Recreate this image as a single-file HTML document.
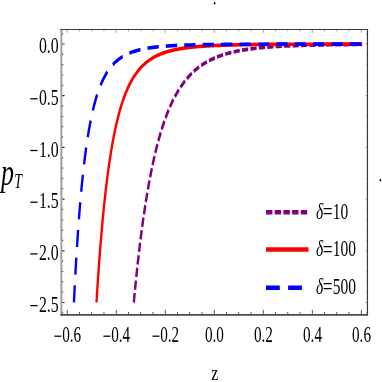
<!DOCTYPE html>
<html><head><meta charset="utf-8"><title>plot</title>
<style>
html,body{margin:0;padding:0;background:#fff;}
body{width:382px;height:382px;overflow:hidden;}
svg{display:block;filter:blur(0.4px);}
text{font-family:"Liberation Serif",serif;fill:#000;}
</style></head><body>
<svg width="382" height="382" viewBox="0 0 382 382">
<rect width="382" height="382" fill="#fff"/>
<g transform="scale(1,1.51)">
<path d="M67.19,208.48v-3.30 M79.44,208.48v-1.90 M91.70,208.48v-1.90 M103.95,208.48v-1.90 M116.21,208.48v-3.30 M128.46,208.48v-1.90 M140.72,208.48v-1.90 M152.97,208.48v-1.90 M165.23,208.48v-3.30 M177.48,208.48v-1.90 M189.74,208.48v-1.90 M202.00,208.48v-1.90 M214.25,208.48v-3.30 M226.50,208.48v-1.90 M238.76,208.48v-1.90 M251.02,208.48v-1.90 M263.27,208.48v-3.30 M275.52,208.48v-1.90 M287.78,208.48v-1.90 M300.04,208.48v-1.90 M312.29,208.48v-3.30 M324.55,208.48v-1.90 M336.80,208.48v-1.90 M349.06,208.48v-1.90 M361.31,208.48v-3.30 M61.30,207.18h1.90 M61.30,200.33h3.30 M61.30,193.48h1.90 M61.30,186.64h1.90 M61.30,179.79h1.90 M61.30,172.94h1.90 M61.30,166.09h3.30 M61.30,159.25h1.90 M61.30,152.40h1.90 M61.30,145.55h1.90 M61.30,138.70h1.90 M61.30,131.85h3.30 M61.30,125.01h1.90 M61.30,118.16h1.90 M61.30,111.31h1.90 M61.30,104.46h1.90 M61.30,97.62h3.30 M61.30,90.77h1.90 M61.30,83.92h1.90 M61.30,77.07h1.90 M61.30,70.23h1.90 M61.30,63.38h3.30 M61.30,56.53h1.90 M61.30,49.68h1.90 M61.30,42.83h1.90 M61.30,35.99h1.90 M61.30,29.14h3.30 M61.30,22.29h1.90"  stroke="#333" stroke-width="0.8" fill="none"/>
<path d="M67.19,19.54v2.15 M79.44,19.54v1.23 M91.70,19.54v1.23 M103.95,19.54v1.23 M116.21,19.54v2.15 M128.46,19.54v1.23 M140.72,19.54v1.23 M152.97,19.54v1.23 M165.23,19.54v2.15 M177.48,19.54v1.23 M189.74,19.54v1.23 M202.00,19.54v1.23 M214.25,19.54v2.15 M226.50,19.54v1.23 M238.76,19.54v1.23 M251.02,19.54v1.23 M263.27,19.54v2.15 M275.52,19.54v1.23 M287.78,19.54v1.23 M300.04,19.54v1.23 M312.29,19.54v2.15 M324.55,19.54v1.23 M336.80,19.54v1.23 M349.06,19.54v1.23 M361.31,19.54v2.15 M367.45,207.18h-1.14 M367.45,200.33h-1.98 M367.45,193.48h-1.14 M367.45,186.64h-1.14 M367.45,179.79h-1.14 M367.45,172.94h-1.14 M367.45,166.09h-1.98 M367.45,159.25h-1.14 M367.45,152.40h-1.14 M367.45,145.55h-1.14 M367.45,138.70h-1.14 M367.45,131.85h-1.98 M367.45,125.01h-1.14 M367.45,118.16h-1.14 M367.45,111.31h-1.14 M367.45,104.46h-1.14 M367.45,97.62h-1.98 M367.45,90.77h-1.14 M367.45,83.92h-1.14 M367.45,77.07h-1.14 M367.45,70.23h-1.14 M367.45,63.38h-1.98 M367.45,56.53h-1.14 M367.45,49.68h-1.14 M367.45,42.83h-1.14 M367.45,35.99h-1.14 M367.45,29.14h-1.98 M367.45,22.29h-1.14" stroke="#777" stroke-width="0.55" fill="none"/>
<path d="M133.81,200.23 L133.81,200.23 L133.81,200.22 L133.82,200.20 L133.82,200.17 L133.83,200.12 L133.83,200.07 L133.84,200.01 L133.85,199.93 L133.87,199.84 L133.88,199.74 L133.90,199.62 L133.91,199.50 L133.93,199.36 L133.96,199.20 L133.98,199.03 L134.00,198.85 L134.03,198.65 L134.06,198.44 L134.09,198.22 L134.13,197.98 L134.16,197.73 L134.20,197.46 L134.24,197.18 L134.28,196.88 L134.33,196.57 L134.37,196.25 L134.42,195.91 L134.47,195.55 L134.53,195.18 L134.58,194.80 L134.64,194.40 L134.70,193.98 L134.76,193.56 L134.82,193.11 L134.89,192.66 L134.96,192.19 L135.03,191.70 L135.11,191.20 L135.18,190.68 L135.26,190.16 L135.34,189.61 L135.42,189.06 L135.51,188.48 L135.60,187.90 L135.69,187.30 L135.78,186.69 L135.88,186.06 L135.97,185.43 L136.08,184.77 L136.18,184.11 L136.28,183.43 L136.39,182.74 L136.50,182.04 L136.61,181.32 L136.73,180.59 L136.85,179.85 L136.97,179.10 L137.09,178.34 L137.22,177.56 L137.35,176.78 L137.48,175.98 L137.61,175.17 L137.75,174.35 L137.89,173.52 L138.03,172.68 L138.17,171.83 L138.32,170.97 L138.47,170.10 L138.62,169.22 L138.77,168.33 L138.93,167.43 L139.09,166.53 L139.25,165.61 L139.42,164.69 L139.59,163.76 L139.76,162.82 L139.93,161.87 L140.11,160.92 L140.29,159.95 L140.47,158.99 L140.65,158.01 L140.84,157.03 L141.03,156.04 L141.22,155.05 L141.42,154.05 L141.61,153.05 L141.82,152.04 L142.02,151.03 L142.23,150.01 L142.44,148.99 L142.65,147.96 L142.86,146.93 L143.08,145.90 L143.30,144.86 L143.52,143.82 L143.75,142.78 L143.98,141.73 L144.21,140.69 L144.45,139.64 L144.68,138.59 L144.93,137.54 L145.17,136.48 L145.42,135.43 L145.66,134.37 L145.92,133.32 L146.17,132.26 L146.43,131.20 L146.69,130.15 L146.95,129.09 L147.22,128.04 L147.49,126.98 L147.76,125.93 L148.04,124.88 L148.32,123.83 L148.60,122.78 L148.88,121.74 L149.17,120.69 L149.46,119.65 L149.75,118.61 L150.05,117.58 L150.35,116.54 L150.65,115.51 L150.96,114.49 L151.26,113.46 L151.58,112.44 L151.89,111.43 L152.21,110.42 L152.53,109.41 L152.85,108.41 L153.18,107.41 L153.51,106.42 L153.84,105.43 L154.17,104.45 L154.51,103.47 L154.85,102.50 L155.20,101.53 L155.55,100.57 L155.90,99.61 L156.25,98.66 L156.61,97.72 L156.97,96.78 L157.33,95.85 L157.69,94.92 L158.06,94.01 L158.44,93.09 L158.81,92.19 L159.19,91.29 L159.57,90.40 L159.95,89.52 L160.34,88.64 L160.73,87.77 L161.13,86.91 L161.52,86.05 L161.92,85.20 L162.33,84.36 L162.73,83.53 L163.14,82.70 L163.56,81.88 L163.97,81.07 L164.39,80.27 L164.81,79.48 L165.24,78.69 L165.67,77.91 L166.10,77.14 L166.53,76.38 L166.97,75.62 L167.41,74.87 L167.85,74.13 L168.30,73.40 L168.75,72.68 L169.21,71.96 L169.66,71.26 L170.12,70.56 L170.59,69.87 L171.05,69.18 L171.52,68.51 L172.00,67.84 L172.47,67.18 L172.95,66.53 L173.43,65.89 L173.92,65.25 L174.41,64.62 L174.90,64.01 L175.40,63.39 L175.90,62.79 L176.40,62.20 L176.90,61.61 L177.41,61.03 L177.92,60.46 L178.44,59.89 L178.96,59.34 L179.48,58.79 L180.00,58.25 L180.53,57.71 L181.06,57.19 L181.60,56.67 L182.14,56.16 L182.68,55.66 L183.22,55.16 L183.77,54.67 L184.32,54.19 L184.88,53.71 L185.43,53.25 L185.99,52.79 L186.56,52.33 L187.13,51.89 L187.70,51.45 L188.27,51.02 L188.85,50.59 L189.43,50.17 L190.02,49.76 L190.60,49.36 L191.19,48.96 L191.79,48.57 L192.39,48.18 L192.99,47.80 L193.59,47.43 L194.20,47.06 L194.81,46.70 L195.42,46.34 L196.04,46.00 L196.66,45.65 L197.29,45.32 L197.92,44.99 L198.55,44.66 L199.18,44.34 L199.82,44.03 L200.46,43.72 L201.11,43.42 L201.75,43.12 L202.41,42.83 L203.06,42.54 L203.72,42.26 L204.38,41.98 L205.05,41.71 L205.72,41.44 L206.39,41.18 L207.06,40.93 L207.74,40.67 L208.42,40.43 L209.11,40.18 L209.80,39.95 L210.49,39.71 L211.19,39.48 L211.89,39.26 L212.59,39.04 L213.30,38.82 L214.00,38.61 L214.72,38.40 L215.43,38.20 L216.15,38.00 L216.88,37.81 L217.60,37.61 L218.34,37.43 L219.07,37.24 L219.81,37.06 L220.55,36.88 L221.29,36.71 L222.04,36.54 L222.79,36.37 L223.54,36.21 L224.30,36.05 L225.06,35.90 L225.83,35.74 L226.60,35.59 L227.37,35.45 L228.15,35.30 L228.92,35.16 L229.71,35.03 L230.49,34.89 L231.28,34.76 L232.08,34.63 L232.87,34.50 L233.67,34.38 L234.48,34.26 L235.28,34.14 L236.09,34.02 L236.91,33.91 L237.73,33.80 L238.55,33.69 L239.37,33.59 L240.20,33.48 L241.03,33.38 L241.87,33.28 L242.71,33.18 L243.55,33.09 L244.39,33.00 L245.24,32.90 L246.10,32.82 L246.95,32.73 L247.81,32.64 L248.68,32.56 L249.54,32.48 L250.41,32.40 L251.29,32.32 L252.17,32.25 L253.05,32.17 L253.93,32.10 L254.82,32.03 L255.71,31.96 L256.61,31.90 L257.51,31.83 L258.41,31.76 L259.32,31.70 L260.23,31.64 L261.14,31.58 L262.06,31.52 L262.98,31.47 L263.90,31.41 L264.83,31.35 L265.76,31.30 L266.70,31.25 L267.64,31.20 L268.58,31.15 L269.53,31.10 L270.48,31.05 L271.43,31.01 L272.39,30.96 L273.35,30.92 L274.31,30.88 L275.28,30.83 L276.25,30.79 L277.22,30.75 L278.20,30.71 L279.19,30.68 L280.17,30.64 L281.16,30.60 L282.15,30.57 L283.15,30.53 L284.15,30.50 L285.16,30.47 L286.16,30.43 L287.17,30.40 L288.19,30.37 L289.21,30.34 L290.23,30.31 L291.26,30.29 L292.29,30.26 L293.32,30.23 L294.36,30.20 L295.40,30.18 L296.44,30.15 L297.49,30.13 L298.54,30.11 L299.60,30.08 L300.66,30.06 L301.72,30.04 L302.78,30.02 L303.85,30.00 L304.93,29.98 L306.01,29.96 L307.09,29.94 L308.17,29.92 L309.26,29.90 L310.35,29.88 L311.45,29.86 L312.55,29.85 L313.65,29.83 L314.76,29.81 L315.87,29.80 L316.98,29.78 L318.10,29.77 L319.22,29.75 L320.35,29.74 L321.48,29.72 L322.61,29.71 L323.75,29.70 L324.89,29.69 L326.03,29.67 L327.18,29.66 L328.33,29.65 L329.49,29.64 L330.65,29.63 L331.81,29.61 L332.98,29.60 L334.15,29.59 L335.32,29.58 L336.50,29.57 L337.68,29.56 L338.87,29.55 L340.05,29.54 L341.25,29.54 L342.44,29.53 L343.64,29.52 L344.85,29.51 L346.06,29.50 L347.27,29.49 L348.48,29.49 L349.70,29.48 L350.92,29.47 L352.15,29.47 L353.38,29.46 L354.62,29.45 L355.85,29.45 L357.10,29.44 L358.34,29.43 L359.59,29.43 L360.84,29.42 L362.10,29.42" fill="none" stroke="#800080" stroke-width="2.45" stroke-dasharray="6.2 2.25"/>
<path d="M96.50,200.23 L96.50,200.23 L96.50,200.21 L96.50,200.17 L96.51,200.12 L96.52,200.04 L96.53,199.95 L96.54,199.83 L96.55,199.70 L96.56,199.54 L96.58,199.36 L96.60,199.16 L96.62,198.93 L96.64,198.69 L96.67,198.41 L96.69,198.12 L96.72,197.80 L96.76,197.45 L96.79,197.09 L96.83,196.69 L96.87,196.28 L96.91,195.83 L96.95,195.37 L97.00,194.88 L97.05,194.36 L97.10,193.82 L97.15,193.26 L97.21,192.67 L97.27,192.06 L97.33,191.42 L97.39,190.76 L97.46,190.07 L97.53,189.37 L97.60,188.64 L97.68,187.88 L97.76,187.10 L97.84,186.30 L97.92,185.48 L98.00,184.64 L98.09,183.77 L98.18,182.89 L98.28,181.98 L98.38,181.05 L98.47,180.10 L98.58,179.13 L98.68,178.15 L98.79,177.14 L98.90,176.11 L99.02,175.07 L99.13,174.01 L99.25,172.93 L99.37,171.83 L99.50,170.72 L99.63,169.60 L99.76,168.45 L99.89,167.30 L100.03,166.13 L100.17,164.94 L100.32,163.74 L100.46,162.53 L100.61,161.31 L100.76,160.07 L100.92,158.83 L101.08,157.57 L101.24,156.30 L101.40,155.03 L101.57,153.74 L101.74,152.45 L101.91,151.15 L102.09,149.84 L102.27,148.53 L102.45,147.21 L102.64,145.88 L102.83,144.55 L103.02,143.22 L103.22,141.88 L103.42,140.54 L103.62,139.19 L103.82,137.84 L104.03,136.49 L104.24,135.14 L104.46,133.79 L104.67,132.44 L104.90,131.09 L105.12,129.74 L105.35,128.39 L105.58,127.05 L105.81,125.70 L106.05,124.36 L106.29,123.02 L106.53,121.69 L106.78,120.35 L107.03,119.03 L107.28,117.71 L107.54,116.39 L107.80,115.08 L108.06,113.78 L108.33,112.48 L108.60,111.19 L108.87,109.90 L109.15,108.63 L109.43,107.36 L109.71,106.10 L110.00,104.85 L110.29,103.60 L110.58,102.37 L110.88,101.14 L111.18,99.93 L111.48,98.73 L111.79,97.53 L112.10,96.35 L112.41,95.17 L112.73,94.01 L113.05,92.86 L113.38,91.72 L113.70,90.59 L114.03,89.47 L114.37,88.37 L114.71,87.28 L115.05,86.19 L115.39,85.13 L115.74,84.07 L116.09,83.02 L116.45,81.99 L116.80,80.97 L117.17,79.97 L117.53,78.97 L117.90,77.99 L118.27,77.03 L118.65,76.07 L119.03,75.13 L119.41,74.20 L119.80,73.28 L120.19,72.38 L120.58,71.49 L120.98,70.62 L121.38,69.75 L121.78,68.90 L122.19,68.06 L122.60,67.24 L123.02,66.43 L123.44,65.63 L123.86,64.84 L124.29,64.07 L124.71,63.31 L125.15,62.56 L125.58,61.83 L126.02,61.10 L126.47,60.39 L126.92,59.70 L127.37,59.01 L127.82,58.34 L128.28,57.68 L128.74,57.03 L129.21,56.39 L129.67,55.76 L130.15,55.15 L130.62,54.55 L131.10,53.96 L131.59,53.38 L132.07,52.81 L132.57,52.25 L133.06,51.70 L133.56,51.17 L134.06,50.64 L134.57,50.13 L135.08,49.62 L135.59,49.13 L136.11,48.64 L136.63,48.17 L137.15,47.71 L137.68,47.25 L138.21,46.81 L138.75,46.37 L139.28,45.95 L139.83,45.53 L140.37,45.12 L140.92,44.72 L141.48,44.33 L142.04,43.95 L142.60,43.58 L143.16,43.21 L143.73,42.85 L144.31,42.51 L144.88,42.17 L145.46,41.83 L146.05,41.51 L146.63,41.19 L147.23,40.88 L147.82,40.57 L148.42,40.28 L149.02,39.99 L149.63,39.71 L150.24,39.43 L150.86,39.16 L151.47,38.90 L152.10,38.64 L152.72,38.39 L153.35,38.15 L153.99,37.91 L154.62,37.68 L155.26,37.45 L155.91,37.23 L156.56,37.01 L157.21,36.80 L157.87,36.60 L158.53,36.40 L159.19,36.20 L159.86,36.01 L160.53,35.83 L161.21,35.65 L161.89,35.47 L162.57,35.30 L163.26,35.13 L163.95,34.97 L164.65,34.81 L165.35,34.65 L166.05,34.50 L166.76,34.36 L167.47,34.21 L168.18,34.08 L168.90,33.94 L169.62,33.81 L170.35,33.68 L171.08,33.55 L171.82,33.43 L172.55,33.31 L173.30,33.20 L174.04,33.09 L174.79,32.98 L175.55,32.87 L176.31,32.77 L177.07,32.67 L177.83,32.57 L178.60,32.47 L179.38,32.38 L180.15,32.29 L180.94,32.20 L181.72,32.12 L182.51,32.04 L183.31,31.95 L184.10,31.88 L184.91,31.80 L185.71,31.73 L186.52,31.65 L187.33,31.58 L188.15,31.52 L188.97,31.45 L189.80,31.38 L190.63,31.32 L191.46,31.26 L192.30,31.20 L193.14,31.14 L193.99,31.09 L194.84,31.03 L195.69,30.98 L196.55,30.93 L197.41,30.88 L198.28,30.83 L199.15,30.78 L200.02,30.74 L200.90,30.69 L201.78,30.65 L202.67,30.61 L203.56,30.57 L204.45,30.53 L205.35,30.49 L206.25,30.45 L207.16,30.42 L208.07,30.38 L208.98,30.35 L209.90,30.31 L210.82,30.28 L211.75,30.25 L212.68,30.22 L213.62,30.19 L214.56,30.16 L215.50,30.13 L216.45,30.11 L217.40,30.08 L218.35,30.05 L219.31,30.03 L220.28,30.01 L221.24,29.98 L222.21,29.96 L223.19,29.94 L224.17,29.92 L225.15,29.90 L226.14,29.88 L227.14,29.86 L228.13,29.84 L229.13,29.82 L230.14,29.80 L231.15,29.78 L232.16,29.77 L233.18,29.75 L234.20,29.73 L235.22,29.72 L236.25,29.70 L237.29,29.69 L238.33,29.67 L239.37,29.66 L240.41,29.65 L241.46,29.63 L242.52,29.62 L243.58,29.61 L244.64,29.60 L245.71,29.59 L246.78,29.58 L247.85,29.56 L248.93,29.55 L250.02,29.54 L251.11,29.53 L252.20,29.52 L253.29,29.51 L254.40,29.51 L255.50,29.50 L256.61,29.49 L257.72,29.48 L258.84,29.47 L259.96,29.46 L261.09,29.46 L262.22,29.45 L263.35,29.44 L264.49,29.44 L265.63,29.43 L266.78,29.42 L267.93,29.42 L269.09,29.41 L270.25,29.40 L271.41,29.40 L272.58,29.39 L273.75,29.39 L274.93,29.38 L276.11,29.38 L277.29,29.37 L278.48,29.37 L279.68,29.36 L280.88,29.36 L282.08,29.35 L283.28,29.35 L284.50,29.34 L285.71,29.34 L286.93,29.34 L288.15,29.33 L289.38,29.33 L290.61,29.33 L291.85,29.32 L293.09,29.32 L294.34,29.32 L295.58,29.31 L296.84,29.31 L298.10,29.31 L299.36,29.30 L300.62,29.30 L301.89,29.30 L303.17,29.30 L304.45,29.29 L305.73,29.29 L307.02,29.29 L308.31,29.29 L309.61,29.28 L310.91,29.28 L312.22,29.28 L313.53,29.28 L314.84,29.27 L316.16,29.27 L317.48,29.27 L318.81,29.27 L320.14,29.27 L321.47,29.27 L322.81,29.26 L324.16,29.26 L325.51,29.26 L326.86,29.26 L328.22,29.26 L329.58,29.26 L330.94,29.25 L332.31,29.25 L333.69,29.25 L335.07,29.25 L336.45,29.25 L337.84,29.25 L339.23,29.25 L340.63,29.25 L342.03,29.24 L343.43,29.24 L344.84,29.24 L346.26,29.24 L347.68,29.24 L349.10,29.24 L350.53,29.24 L351.96,29.24 L353.39,29.24 L354.83,29.24 L356.28,29.23 L357.73,29.23 L359.18,29.23 L360.64,29.23 L362.10,29.23" fill="none" stroke="#ff0000" stroke-width="2.4"/>
<path d="M73.92,200.23 L73.92,200.22 L73.92,200.20 L73.93,200.15 L73.93,200.07 L73.94,199.97 L73.95,199.85 L73.96,199.69 L73.97,199.51 L73.99,199.29 L74.01,199.05 L74.03,198.77 L74.05,198.46 L74.08,198.13 L74.10,197.76 L74.13,197.36 L74.16,196.92 L74.20,196.46 L74.24,195.96 L74.28,195.43 L74.32,194.86 L74.36,194.27 L74.41,193.64 L74.46,192.98 L74.52,192.29 L74.57,191.56 L74.63,190.81 L74.69,190.02 L74.76,189.20 L74.82,188.35 L74.89,187.47 L74.96,186.56 L75.04,185.62 L75.12,184.66 L75.20,183.66 L75.28,182.64 L75.37,181.59 L75.46,180.51 L75.55,179.40 L75.65,178.27 L75.75,177.12 L75.85,175.94 L75.96,174.74 L76.06,173.51 L76.18,172.26 L76.29,170.99 L76.41,169.70 L76.53,168.39 L76.65,167.06 L76.78,165.71 L76.91,164.35 L77.04,162.97 L77.18,161.57 L77.32,160.16 L77.46,158.73 L77.60,157.29 L77.75,155.84 L77.91,154.37 L78.06,152.90 L78.22,151.41 L78.38,149.92 L78.55,148.41 L78.72,146.90 L78.89,145.38 L79.06,143.86 L79.24,142.33 L79.42,140.80 L79.61,139.27 L79.80,137.73 L79.99,136.19 L80.18,134.65 L80.38,133.11 L80.58,131.57 L80.79,130.03 L81.00,128.49 L81.21,126.95 L81.43,125.42 L81.64,123.90 L81.87,122.37 L82.09,120.86 L82.32,119.35 L82.55,117.84 L82.79,116.35 L83.03,114.86 L83.27,113.38 L83.52,111.91 L83.77,110.44 L84.02,108.99 L84.28,107.55 L84.54,106.12 L84.81,104.70 L85.07,103.30 L85.35,101.90 L85.62,100.52 L85.90,99.15 L86.18,97.80 L86.47,96.46 L86.76,95.13 L87.05,93.82 L87.35,92.52 L87.65,91.23 L87.95,89.97 L88.26,88.71 L88.57,87.48 L88.88,86.26 L89.20,85.05 L89.52,83.86 L89.85,82.69 L90.18,81.53 L90.51,80.39 L90.85,79.27 L91.19,78.17 L91.53,77.08 L91.88,76.00 L92.23,74.95 L92.59,73.91 L92.95,72.89 L93.31,71.88 L93.68,70.89 L94.05,69.92 L94.42,68.97 L94.80,68.03 L95.18,67.11 L95.56,66.20 L95.95,65.31 L96.35,64.44 L96.74,63.59 L97.14,62.75 L97.55,61.93 L97.95,61.12 L98.37,60.33 L98.78,59.55 L99.20,58.79 L99.62,58.05 L100.05,57.32 L100.48,56.60 L100.92,55.90 L101.36,55.22 L101.80,54.55 L102.24,53.89 L102.70,53.25 L103.15,52.62 L103.61,52.01 L104.07,51.41 L104.53,50.83 L105.00,50.25 L105.48,49.69 L105.96,49.14 L106.44,48.61 L106.92,48.09 L107.41,47.58 L107.90,47.08 L108.40,46.59 L108.90,46.12 L109.41,45.66 L109.92,45.21 L110.43,44.76 L110.95,44.33 L111.47,43.92 L111.99,43.51 L112.52,43.11 L113.05,42.72 L113.59,42.34 L114.13,41.97 L114.68,41.61 L115.22,41.26 L115.78,40.92 L116.33,40.59 L116.89,40.26 L117.46,39.95 L118.03,39.64 L118.60,39.34 L119.18,39.05 L119.76,38.77 L120.34,38.49 L120.93,38.22 L121.53,37.96 L122.12,37.71 L122.72,37.46 L123.33,37.22 L123.94,36.98 L124.55,36.76 L125.17,36.54 L125.79,36.32 L126.42,36.11 L127.05,35.91 L127.68,35.71 L128.32,35.52 L128.96,35.33 L129.61,35.15 L130.26,34.97 L130.91,34.80 L131.57,34.64 L132.23,34.47 L132.90,34.32 L133.57,34.16 L134.24,34.02 L134.92,33.87 L135.61,33.73 L136.29,33.60 L136.99,33.46 L137.68,33.34 L138.38,33.21 L139.09,33.09 L139.79,32.97 L140.51,32.86 L141.22,32.75 L141.94,32.64 L142.67,32.54 L143.40,32.44 L144.13,32.34 L144.87,32.24 L145.61,32.15 L146.36,32.06 L147.11,31.98 L147.86,31.89 L148.62,31.81 L149.38,31.73 L150.15,31.65 L150.92,31.58 L151.70,31.51 L152.48,31.44 L153.26,31.37 L154.05,31.30 L154.84,31.24 L155.64,31.18 L156.44,31.12 L157.25,31.06 L158.06,31.00 L158.87,30.95 L159.69,30.89 L160.51,30.84 L161.34,30.79 L162.17,30.74 L163.00,30.70 L163.84,30.65 L164.69,30.61 L165.54,30.56 L166.39,30.52 L167.25,30.48 L168.11,30.44 L168.97,30.41 L169.84,30.37 L170.72,30.33 L171.60,30.30 L172.48,30.27 L173.37,30.23 L174.26,30.20 L175.15,30.17 L176.05,30.14 L176.96,30.11 L177.87,30.09 L178.78,30.06 L179.70,30.03 L180.62,30.01 L181.55,29.98 L182.48,29.96 L183.41,29.94 L184.35,29.91 L185.29,29.89 L186.24,29.87 L187.20,29.85 L188.15,29.83 L189.11,29.81 L190.08,29.79 L191.05,29.78 L192.02,29.76 L193.00,29.74 L193.99,29.73 L194.97,29.71 L195.97,29.70 L196.96,29.68 L197.96,29.67 L198.97,29.65 L199.98,29.64 L200.99,29.63 L202.01,29.61 L203.04,29.60 L204.06,29.59 L205.10,29.58 L206.13,29.57 L207.17,29.56 L208.22,29.54 L209.27,29.53 L210.32,29.52 L211.38,29.51 L212.45,29.51 L213.51,29.50 L214.59,29.49 L215.66,29.48 L216.74,29.47 L217.83,29.46 L218.92,29.46 L220.01,29.45 L221.11,29.44 L222.22,29.43 L223.33,29.43 L224.44,29.42 L225.56,29.41 L226.68,29.41 L227.80,29.40 L228.93,29.40 L230.07,29.39 L231.21,29.39 L232.35,29.38 L233.50,29.37 L234.66,29.37 L235.81,29.36 L236.98,29.36 L238.14,29.36 L239.31,29.35 L240.49,29.35 L241.67,29.34 L242.86,29.34 L244.05,29.33 L245.24,29.33 L246.44,29.33 L247.64,29.32 L248.85,29.32 L250.06,29.32 L251.28,29.31 L252.50,29.31 L253.73,29.31 L254.96,29.30 L256.19,29.30 L257.43,29.30 L258.68,29.30 L259.93,29.29 L261.18,29.29 L262.44,29.29 L263.70,29.29 L264.97,29.28 L266.24,29.28 L267.52,29.28 L268.80,29.28 L270.09,29.28 L271.38,29.27 L272.67,29.27 L273.97,29.27 L275.28,29.27 L276.58,29.27 L277.90,29.26 L279.22,29.26 L280.54,29.26 L281.87,29.26 L283.20,29.26 L284.54,29.26 L285.88,29.25 L287.22,29.25 L288.57,29.25 L289.93,29.25 L291.29,29.25 L292.65,29.25 L294.02,29.25 L295.40,29.25 L296.78,29.24 L298.16,29.24 L299.55,29.24 L300.94,29.24 L302.34,29.24 L303.74,29.24 L305.15,29.24 L306.56,29.24 L307.98,29.24 L309.40,29.24 L310.82,29.24 L312.25,29.23 L313.69,29.23 L315.13,29.23 L316.57,29.23 L318.02,29.23 L319.47,29.23 L320.93,29.23 L322.40,29.23 L323.86,29.23 L325.34,29.23 L326.81,29.23 L328.30,29.23 L329.78,29.23 L331.27,29.23 L332.77,29.22 L334.27,29.22 L335.78,29.22 L337.29,29.22 L338.80,29.22 L340.32,29.22 L341.85,29.22 L343.38,29.22 L344.91,29.22 L346.45,29.22 L347.99,29.22 L349.54,29.22 L351.09,29.22 L352.65,29.22 L354.21,29.22 L355.78,29.22 L357.35,29.22 L358.93,29.22 L360.51,29.22 L362.10,29.22" fill="none" stroke="#0000ff" stroke-width="2.4" stroke-dasharray="11.35 7.05"/>
<path d="M266,140.60H308" fill="none" stroke="#800080" stroke-width="3.0" stroke-dasharray="6.4 2.3"/>
<path d="M266,165.23H308.5" fill="none" stroke="#ff0000" stroke-width="3.0"/>
<path d="M266,190.53H302" fill="none" stroke="#0000ff" stroke-width="3.0" stroke-dasharray="13.8 8.3"/>
</g>
<path d="M61.35,28.9V315.6" stroke="#a0a0a0" stroke-width="2.0" fill="none"/>
<path d="M367.45,28.9V315.6" stroke="#3a3a3a" stroke-width="1.2" fill="none"/>
<path d="M60.4,29.5H368.05" stroke="#3a3a3a" stroke-width="1.2" fill="none"/>
<path d="M60.4,314.8H368.05" stroke="#4a4a4a" stroke-width="1.7" fill="none"/>
<ellipse cx="214.6" cy="3.3" rx="0.8" ry="1.2" fill="#000"/>
<ellipse cx="380.4" cy="180.3" rx="0.8" ry="1.2" fill="#000"/>
<text transform="translate(58.70,53.10) scale(0.7117,1)" font-size="22.2" text-anchor="end">0.0</text>
<text transform="translate(58.70,104.80) scale(0.7117,1)" font-size="22.2" text-anchor="end">0.5</text>
<rect x="30.30" y="98.17" width="7.30" height="1.25" fill="#000"/>
<text transform="translate(58.70,156.50) scale(0.7117,1)" font-size="22.2" text-anchor="end">1.0</text>
<rect x="30.30" y="149.88" width="7.30" height="1.25" fill="#000"/>
<text transform="translate(58.70,208.20) scale(0.7117,1)" font-size="22.2" text-anchor="end">1.5</text>
<rect x="30.30" y="201.58" width="7.30" height="1.25" fill="#000"/>
<text transform="translate(58.70,259.90) scale(0.7117,1)" font-size="22.2" text-anchor="end">2.0</text>
<rect x="30.30" y="253.28" width="7.30" height="1.25" fill="#000"/>
<text transform="translate(58.70,311.60) scale(0.7117,1)" font-size="22.2" text-anchor="end">2.5</text>
<rect x="30.30" y="304.98" width="7.30" height="1.25" fill="#000"/>
<text transform="translate(62.19,342.30) scale(0.6847,1)" font-size="22.2" text-anchor="start">0.6</text>
<rect x="54.39" y="335.57" width="7.00" height="1.25" fill="#000"/>
<text transform="translate(111.21,342.30) scale(0.6847,1)" font-size="22.2" text-anchor="start">0.4</text>
<rect x="103.41" y="335.57" width="7.00" height="1.25" fill="#000"/>
<text transform="translate(160.23,342.30) scale(0.6847,1)" font-size="22.2" text-anchor="start">0.2</text>
<rect x="152.43" y="335.57" width="7.00" height="1.25" fill="#000"/>
<text transform="translate(214.45,342.30) scale(0.6847,1)" font-size="22.2" text-anchor="middle">0.0</text>
<text transform="translate(263.47,342.30) scale(0.6847,1)" font-size="22.2" text-anchor="middle">0.2</text>
<text transform="translate(312.49,342.30) scale(0.6847,1)" font-size="22.2" text-anchor="middle">0.4</text>
<text transform="translate(361.51,342.30) scale(0.6847,1)" font-size="22.2" text-anchor="middle">0.6</text>
<text transform="translate(214.80,379.60) scale(0.7772,1)" font-size="20.2" text-anchor="middle">z</text>
<text transform="translate(0.90,185.20) scale(0.6753,1)" font-size="38.5" text-anchor="start" style="stroke:none"><tspan font-style="italic">p</tspan></text>
<text transform="translate(14.30,187.90) scale(0.6512,1)" font-size="21.5" text-anchor="start" style="stroke:none"><tspan font-style="italic">T</tspan></text>
<text transform="translate(316.00,218.50) scale(0.6982,1)" font-size="22.2" text-anchor="start" style="stroke:none"><tspan font-style="italic">δ</tspan><tspan dx="-0.7" dy="1.4" font-size="25">=</tspan><tspan dy="-1.4" dx="0.2">10</tspan></text>
<text transform="translate(316.00,256.20) scale(0.6982,1)" font-size="22.2" text-anchor="start" style="stroke:none"><tspan font-style="italic">δ</tspan><tspan dx="-0.7" dy="1.4" font-size="25">=</tspan><tspan dy="-1.4" dx="0.2">100</tspan></text>
<text transform="translate(316.00,293.90) scale(0.6982,1)" font-size="22.2" text-anchor="start" style="stroke:none"><tspan font-style="italic">δ</tspan><tspan dx="-0.7" dy="1.4" font-size="25">=</tspan><tspan dy="-1.4" dx="0.2">500</tspan></text>
</svg>
</body></html>
